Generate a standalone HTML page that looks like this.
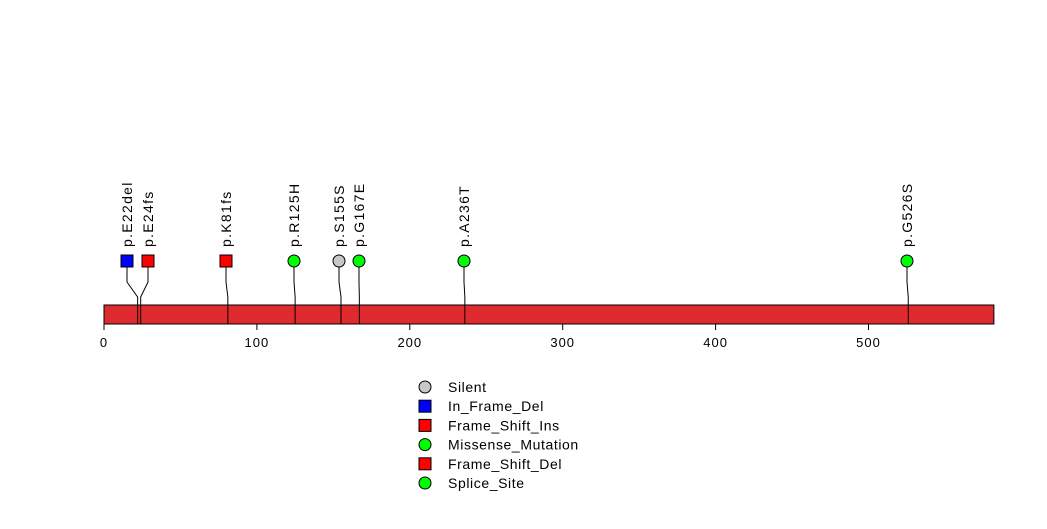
<!DOCTYPE html>
<html><head><meta charset="utf-8"><style>
body{margin:0;background:#fff;width:1047px;height:524px;overflow:hidden}
svg{font-family:"Liberation Sans",sans-serif}
</style></head><body>
<svg id="c" width="1047" height="524"></svg>
<script>
const positions=[22,24,81,125,155,167,236,526];
const labels=["p.E22del","p.E24fs","p.K81fs","p.R125H","p.S155S","p.G167E","p.A236T","p.G526S"];
const types=["In_Frame_Del","Frame_Shift_Ins","Frame_Shift_Del","Missense_Mutation","Silent","Missense_Mutation","Missense_Mutation","Missense_Mutation"];
const markerX=[127,148,226,294,339,359,464,907];
const ticks=[0,100,200,300,400,500];
const legendNames=["Silent","In_Frame_Del","Frame_Shift_Ins","Missense_Mutation","Frame_Shift_Del","Splice_Site"];
const legendShapes=["circle","square","square","circle","square","circle"];
const legendColors=["#c8c8c8","#0000ff","#ff0000","#00ff00","#ff0000","#00ff00"];
const proteinLength=582;
const colorOf={"Silent":"#c8c8c8","In_Frame_Del":"#0000ff","Frame_Shift_Ins":"#ff0000","Frame_Shift_Del":"#ff0000","Missense_Mutation":"#00ff00","Splice_Site":"#00ff00"};
const NS="http://www.w3.org/2000/svg";
const svg=document.getElementById('c');
const x=v=>104+v*1.529;
function mk(t,a,p){const e=document.createElementNS(NS,t);for(const k in a)e.setAttribute(k,a[k]);(p||svg).appendChild(e);return e;}
const bar=mk('rect',{x:x(0),y:305,width:x(proteinLength)-x(0),height:19,fill:'#df2b30',stroke:'#000','stroke-width':1});


mk('line',{x1:x(0),x2:x(500),y1:324,y2:324,stroke:'#000'});
ticks.forEach(t=>{
  mk('line',{x1:x(t),x2:x(t),y1:324,y2:330,stroke:'#000'});
  const tl=mk('text',{x:x(t),y:347,'text-anchor':'middle','font-size':13,'letter-spacing':1},null);
  tl.textContent=t;
  
  
});
positions.forEach((p,i)=>{
  const px=x(p),mx=markerX[i];
  const g=mk('g',{});
  
  
  mk('polyline',{points:`${mx},261 ${mx},282 ${px},297 ${px},324`,fill:'none',stroke:'#000','stroke-width':1},g);
  const c=colorOf[types[i]];
  if(types[i].indexOf('Frame')>=0)
    mk('rect',{x:mx-6,y:255,width:12,height:12,fill:c,stroke:'#000'},g);
  else mk('circle',{cx:mx,cy:261,r:6,fill:c,stroke:'#000'},g);
  const t=mk('text',{x:0,y:0,'font-size':14,'letter-spacing':1.3,transform:`translate(${mx+5},247) rotate(-90)`},g);
  t.textContent=labels[i];
});
legendNames.forEach((n,i)=>{
  const y=387+i*19.2;
  const g=mk('g',{});
  
  
  if(legendShapes[i]==='circle')mk('circle',{cx:425,cy:y,r:6,fill:legendColors[i],stroke:'#000'},g);
  else mk('rect',{x:419,y:y-6,width:12,height:12,fill:legendColors[i],stroke:'#000'},g);
  const t=mk('text',{x:448,y:y+5,'font-size':14,'letter-spacing':0.6},g);
  t.textContent=n;
});
</script>
</body></html>
